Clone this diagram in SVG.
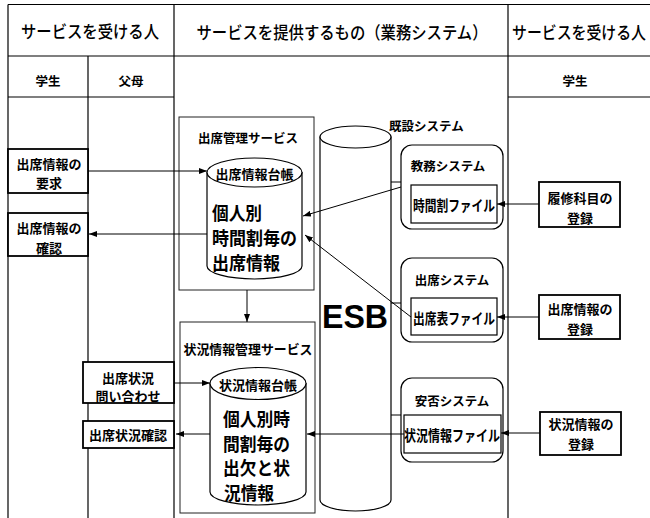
<svg xmlns="http://www.w3.org/2000/svg" width="650" height="518" viewBox="0 0 650 518">
<style>
.ln{stroke:#000;stroke-width:1;fill:none}
.grid{stroke:#000;stroke-width:1.2;fill:none}
.bx{fill:#fff;stroke:#000;stroke-width:1.8}
.svc{fill:#fff;stroke:#222;stroke-width:1}
.sys{fill:#fff;stroke:#000;stroke-width:1.2}
.cyl{fill:#fff;stroke:#000;stroke-width:1.2}
.t{font-family:"Noto Sans CJK JP","Noto Sans CJK SC",sans-serif;font-weight:bold;fill:#000;dominant-baseline:central}
.h{font-family:"Noto Sans CJK JP","Noto Sans CJK SC",sans-serif;font-weight:500;fill:#000;font-size:17.5px;dominant-baseline:central}
.s13{font-size:13px}
.s12{font-size:12.5px}
.big{font-size:18.5px}
.c{text-anchor:middle}
</style>
<defs>
<marker id="ah" markerWidth="8" markerHeight="6" refX="8" refY="3" orient="auto" markerUnits="userSpaceOnUse">
<path d="M0,0 L8,3 L0,6 z" fill="#000"/>
</marker>
</defs>
<rect width="650" height="518" fill="#fff"/>

<g id="table">
<line class="grid" x1="8" y1="4.5" x2="650" y2="4.5"/>
<line class="grid" x1="8" y1="56" x2="650" y2="56"/>
<line class="grid" x1="8" y1="97" x2="174" y2="97"/>
<line class="grid" x1="508" y1="97" x2="650" y2="97"/>
<line class="grid" x1="8" y1="4.5" x2="8" y2="518"/>
<line class="grid" x1="88" y1="56" x2="88" y2="518"/>
<line class="grid" x1="174" y1="4.5" x2="174" y2="518"/>
<line class="grid" x1="508" y1="4.5" x2="508" y2="518"/>
<text class="h c" x="90" y="30" textLength="138" lengthAdjust="spacingAndGlyphs">サービスを受ける人</text>
<text class="h c" x="342" y="31" textLength="291" lengthAdjust="spacingAndGlyphs">サービスを提供するもの（業務システム）</text>
<text class="h" x="512" y="31" textLength="134" lengthAdjust="spacingAndGlyphs">サービスを受ける人</text>
<text class="t s12 c" x="48" y="80">学生</text>
<text class="t s12 c" x="131" y="80">父母</text>
<text class="t s12 c" x="575" y="80">学生</text>
</g>

<g id="req">
<rect class="bx" x="8" y="149" width="80" height="44"/>
<text class="t s13 c" x="49" y="163">出席情報の</text>
<text class="t s13 c" x="49" y="182">要求</text>
</g>
<g id="confirm">
<rect class="bx" x="8" y="213" width="80" height="43"/>
<text class="t s13 c" x="49" y="227">出席情報の</text>
<text class="t s13 c" x="49" y="247">確認</text>
</g>
<g id="inquiry">
<rect class="bx" x="83" y="362" width="91" height="41"/>
<text class="t s13 c" x="128" y="377">出席状況</text>
<text class="t s13 c" x="128" y="395">問い合わせ</text>
</g>
<g id="statusconfirm">
<rect class="bx" x="83" y="421" width="91" height="27"/>
<text class="t s13 c" x="128" y="434">出席状況確認</text>
</g>

<g id="attend-service">
<rect class="svc" x="179" y="117" width="135" height="173"/>
<text class="t s12 c" x="248" y="137">出席管理サービス</text>
<path class="cyl" d="M207,172.5 L207,266 A47.5,13 0 0 0 302,266 L302,172.5 Z"/>
<ellipse class="cyl" cx="254.5" cy="172.5" rx="47.5" ry="14.5"/>
<text class="t s13 c" x="254.5" y="173">出席情報台帳</text>
<text class="t big" x="212" y="212" textLength="50" lengthAdjust="spacingAndGlyphs">個人別</text>
<text class="t big" x="212" y="237" textLength="85" lengthAdjust="spacingAndGlyphs">時間割毎の</text>
<text class="t big" x="212" y="262" textLength="68" lengthAdjust="spacingAndGlyphs">出席情報</text>
</g>

<g id="status-service">
<rect class="svc" x="180" y="322" width="135" height="191"/>
<text class="t s13 c" x="248" y="348" textLength="129" lengthAdjust="spacingAndGlyphs">状況情報管理サービス</text>
<path class="cyl" d="M210,383.5 L210,492 A48,13 0 0 0 306,492 L306,383.5 Z"/>
<ellipse class="cyl" cx="258" cy="383.5" rx="48" ry="16"/>
<text class="t s13 c" x="258" y="384">状況情報台帳</text>
<text class="t big" x="223" y="418" textLength="67" lengthAdjust="spacingAndGlyphs">個人別時</text>
<text class="t big" x="223" y="443" textLength="67" lengthAdjust="spacingAndGlyphs">間割毎の</text>
<text class="t big" x="223" y="467" textLength="67" lengthAdjust="spacingAndGlyphs">出欠と状</text>
<text class="t big" x="224" y="492" textLength="50" lengthAdjust="spacingAndGlyphs">況情報</text>
</g>

<g id="esb">
<path class="cyl" d="M320,137 L320,500 A35.5,11 0 0 0 391,500 L391,137 Z"/>
<ellipse class="cyl" cx="355.5" cy="137" rx="35.5" ry="11"/>
<text x="322" y="316" font-family="Liberation Sans, Arial, sans-serif" font-size="33" font-weight="bold" fill="#000" dominant-baseline="central" textLength="66" lengthAdjust="spacingAndGlyphs">ESB</text>
</g>

<g id="existing-label">
<text class="t s12" x="389" y="125">既設システム</text>
</g>

<g id="kyomu">
<rect class="sys" x="401" y="145" width="102" height="84" rx="11"/>
<text class="t s12 c" x="448" y="165">教務システム</text>
<rect class="sys" x="411" y="185" width="86" height="38"/>
<text class="t c" x="454" y="204" font-size="15" textLength="82" lengthAdjust="spacingAndGlyphs">時間割ファイル</text>
</g>
<g id="shusseki-sys">
<rect class="sys" x="401" y="258" width="102" height="84" rx="11"/>
<text class="t s12 c" x="452" y="279">出席システム</text>
<rect class="sys" x="411" y="298" width="86" height="37"/>
<text class="t c" x="454" y="317" font-size="15" textLength="82" lengthAdjust="spacingAndGlyphs">出席表ファイル</text>
</g>
<g id="anpi-sys">
<rect class="sys" x="401" y="378" width="102" height="84" rx="11"/>
<text class="t s12 c" x="452" y="400">安否システム</text>
<rect class="sys" x="404" y="415" width="97" height="38"/>
<text class="t c" x="452" y="434" font-size="15" textLength="96" lengthAdjust="spacingAndGlyphs">状況情報ファイル</text>
</g>

<g id="rishu">
<rect class="bx" x="539" y="182" width="81" height="45"/>
<text class="t s13 c" x="580" y="197">履修科目の</text>
<text class="t s13 c" x="580" y="217">登録</text>
</g>
<g id="shusseki-reg">
<rect class="bx" x="539" y="295" width="81" height="44"/>
<text class="t s13 c" x="580" y="308">出席情報の</text>
<text class="t s13 c" x="580" y="328">登録</text>
</g>
<g id="jokyo-reg">
<rect class="bx" x="540" y="412" width="81" height="43"/>
<text class="t s13 c" x="581" y="423">状況情報の</text>
<text class="t s13 c" x="581" y="443">登録</text>
</g>

<g id="connectors">
<line class="ln" x1="88" y1="171" x2="207" y2="171" marker-end="url(#ah)"/>
<line class="ln" x1="207" y1="234" x2="89" y2="234" marker-end="url(#ah)"/>
<line class="ln" x1="247" y1="290" x2="247" y2="322" marker-end="url(#ah)"/>
<line class="ln" x1="174" y1="383" x2="210" y2="383" marker-end="url(#ah)"/>
<line class="ln" x1="210" y1="434" x2="176" y2="434" marker-end="url(#ah)"/>
<line class="ln" x1="391" y1="182" x2="401" y2="182"/>
<line class="ln" x1="391" y1="303" x2="401" y2="303"/>
<line class="ln" x1="391" y1="415" x2="401" y2="415"/>
<line class="ln" x1="401" y1="187" x2="303" y2="216" marker-end="url(#ah)"/>
<line class="ln" x1="411" y1="317" x2="305" y2="235" marker-end="url(#ah)"/>
<line class="ln" x1="404" y1="434" x2="307" y2="434" marker-end="url(#ah)"/>
<line class="ln" x1="539" y1="204" x2="497" y2="204" marker-end="url(#ah)"/>
<line class="ln" x1="539" y1="317" x2="497" y2="317" marker-end="url(#ah)"/>
<line class="ln" x1="540" y1="433" x2="501" y2="433" marker-end="url(#ah)"/>
</g>
</svg>
